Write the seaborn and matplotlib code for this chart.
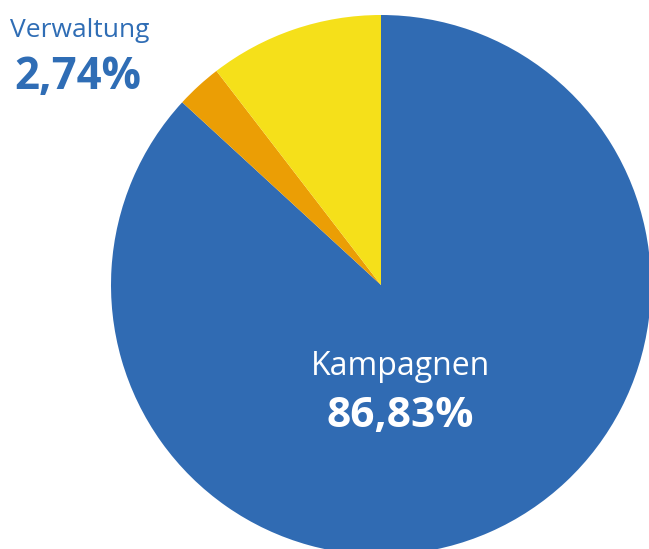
import matplotlib.pyplot as plt
import seaborn as sns

# Budget shares (percent)
labels = ["Kampagnen", "Verwaltung", "Sonstiges"]
shares = [86.83, 2.74, 10.43]
colors = ["#306BB3", "#EB9E05", "#F5E01A"]

sns.set_style("white")
plt.rcParams["font.family"] = ["Open Sans", "DejaVu Sans"]

W, H = 649, 549
fig = plt.figure(figsize=(W / 100, H / 100), dpi=100)
ax = fig.add_axes([0, 0, 1, 1])

ax.pie(
    shares,
    colors=colors,
    startangle=90,
    counterclock=False,
    center=(381, H - 285),
    radius=270,
    wedgeprops={"linewidth": 0},
)
ax.set_xlim(0, W)
ax.set_ylim(0, H)
ax.set_aspect("equal")
ax.axis("off")

# Labels
ax.text(10, H - 37, labels[1], color="#2F6DB5", fontsize=19, ha="left", va="baseline")
ax.text(14, H - 89, f"{shares[1]:.2f}%".replace(".", ","), color="#2F6DB5",
        fontsize=31.5, fontweight="bold", ha="left", va="baseline")
ax.text(400, H - 375, labels[0], color="white", fontsize=23, ha="center", va="baseline")
ax.text(400, H - 427, f"{shares[0]:.2f}%".replace(".", ","), color="white",
        fontsize=30.5, fontweight="bold", ha="center", va="baseline")

fig.savefig("out.png", dpi=100)
